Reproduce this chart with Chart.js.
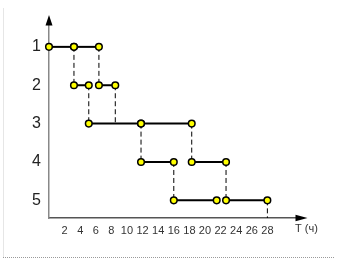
<!DOCTYPE html>
<html>
<head>
<meta charset="utf-8">
<script src="https://cdn.jsdelivr.net/npm/chart.js@4/dist/chart.umd.min.js"></script>
<style>
  html, body { margin: 0; padding: 0; background: #fff; }
  #wrap { width: 337px; height: 261px; }
</style>
</head>
<body>
<div id="wrap"><canvas id="c" width="337" height="261"></canvas></div>
<script>
// ---- data (hours, row numbers) ----
const rowNumbers = [1, 2, 3, 4, 5];
const row1 = [[0, 3.2], [3.2, 6.4]];
const row2 = [[3.2, 5.1], [6.4, 8.5]];
const row3 = [[5.1, 11.8], [11.8, 18.3]];
const row4 = [[11.8, 16.0], [18.3, 22.7]];
const row5 = [[16.0, 21.5], [22.7, 28.0]];
const transferX    = [3.2, 6.4, 5.1, 8.5, 11.8, 18.3, 16.0, 22.7, 28.0];
const transferFrom = [1, 1, 2, 2, 3, 3, 4, 4, 5];
const transferTo   = [2, 2, 3, 3, 4, 4, 5, 5, null]; // null = down to the time axis
const xTickValues = [2, 4, 6, 8, 10, 12, 14, 16, 18, 20, 22, 24, 26, 28];
const xTickLabels = ['2','4','6','8','10','12','14','16','18','20','22','24','26','28'];
const xAxisTitle = 'T (ч)';

const Y_MIN = 0.43, Y_MAX = 5.46, X_MAX = 31.67;

const rows = [row1, row2, row3, row4, row5];
const datasets = [];

// dashed transfer lines
transferX.forEach((x, i) => {
  const to = transferTo[i] === null ? Y_MAX : transferTo[i];
  datasets.push({
    data: [{x: x, y: transferFrom[i]}, {x: x, y: to}],
    showLine: true,
    borderColor: '#000',
    borderWidth: 1,
    borderDash: [5, 3],
    pointRadius: 0,
    clip: false,
    order: 2
  });
});

// solid operation intervals with yellow points
rows.forEach((row, r) => {
  row.forEach(([a, b]) => {
    datasets.push({
      data: [{x: a, y: rowNumbers[r]}, {x: b, y: rowNumbers[r]}],
      showLine: true,
      borderColor: '#000',
      borderWidth: 2,
      pointRadius: 3.3,
      pointBackgroundColor: '#ffff00',
      pointBorderColor: '#000',
      pointBorderWidth: 1.5,
      clip: false,
      order: 1
    });
  });
});

const decor = {
  id: 'decor',
  beforeDraw(chart) {
    const ctx = chart.ctx;
    ctx.save();
    ctx.fillStyle = '#fff';
    ctx.fillRect(0, 0, chart.width, chart.height);
    // faint frame on the left
    ctx.strokeStyle = '#e6e6e6';
    ctx.lineWidth = 1;
    ctx.beginPath();
    ctx.moveTo(3.5, 8);
    ctx.lineTo(3.5, 257);
    ctx.stroke();
    // dotted bottom line
    ctx.strokeStyle = '#9a9a9a';
    ctx.setLineDash([1, 1]);
    ctx.beginPath();
    ctx.moveTo(3, 257.5);
    ctx.lineTo(334, 257.5);
    ctx.stroke();
    ctx.restore();
  },
  afterDraw(chart) {
    const ctx = chart.ctx;
    const a = chart.chartArea;
    ctx.save();
    ctx.fillStyle = '#000';
    // y arrow
    ctx.beginPath();
    ctx.moveTo(a.left, a.top - 10);
    ctx.lineTo(a.left - 3.5, a.top + 0.5);
    ctx.lineTo(a.left + 3.5, a.top + 0.5);
    ctx.closePath();
    ctx.fill();
    // x arrow
    ctx.beginPath();
    ctx.moveTo(a.right + 11.5, a.bottom);
    ctx.lineTo(a.right - 0.5, a.bottom - 3.3);
    ctx.lineTo(a.right - 0.5, a.bottom + 3.3);
    ctx.closePath();
    ctx.fill();
    // axis title
    ctx.fillStyle = '#333';
    ctx.font = '11px "Liberation Sans", Arial, sans-serif';
    ctx.textBaseline = 'middle';
    ctx.textAlign = 'left';
    ctx.fillText(xAxisTitle, a.right - 1, a.bottom + 11);
    ctx.restore();
  }
};

new Chart(document.getElementById('c'), {
  type: 'scatter',
  data: { datasets: datasets },
  options: {
    responsive: false,
    devicePixelRatio: 1,
    animation: false,
    events: [],
    layout: { padding: { top: 25, right: 41, left: 0, bottom: 0 } },
    plugins: { legend: { display: false }, tooltip: { enabled: false } },
    scales: {
      x: {
        type: 'linear',
        min: 0,
        max: X_MAX,
        grid: { display: false, drawTicks: false },
        border: { display: true, color: '#555', width: 1.5 },
        afterBuildTicks(axis) { axis.ticks = xTickValues.map(v => ({ value: v })); },
        afterFit(scale) { scale.height = 43; },
        ticks: {
          autoSkip: false,
          maxRotation: 0,
          padding: 6,
          color: '#333',
          font: { family: '"Liberation Sans", Arial, sans-serif', size: 11 },
          callback(v) { const i = xTickValues.indexOf(v); return i >= 0 ? xTickLabels[i] : ''; }
        }
      },
      y: {
        type: 'linear',
        reverse: true,
        min: Y_MIN,
        max: Y_MAX,
        grid: { display: false, drawTicks: false },
        border: { display: true, color: '#888', width: 1.5 },
        afterBuildTicks(axis) { axis.ticks = rowNumbers.map(v => ({ value: v })); },
        afterFit(scale) { scale.width = 49; },
        ticks: {
          padding: 8,
          color: '#222',
          font: { family: '"Liberation Sans", Arial, sans-serif', size: 16 },
          callback(v) { return String(v); }
        }
      }
    }
  },
  plugins: [decor]
});
</script>
</body>
</html>
